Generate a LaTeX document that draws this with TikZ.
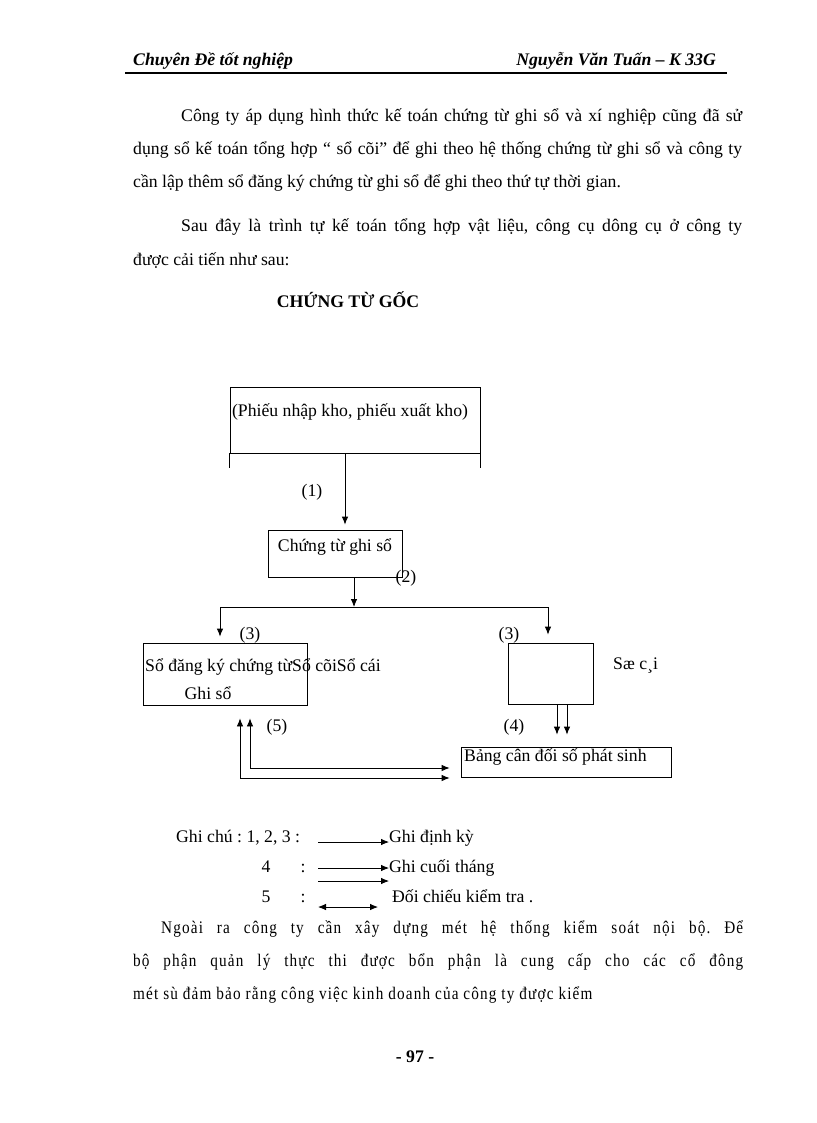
\documentclass[tikz,border=0pt]{standalone}
\usepackage{fontspec}
\setmainfont{Liberation Serif}
\newfontfamily\spacedfont[LetterSpace=6.5, FakeStretch=0.86]{Liberation Serif}
\usetikzlibrary{arrows.meta}
\frenchspacing

\begin{document}
\begin{tikzpicture}[x=1pt, y=-1pt,
		box_style/.style={draw=black, line width=0.8pt, inner sep=0pt},
		text_style/.style={inner sep=0pt, text height=12pt, text depth=4pt, font=\fontsize{17.7}{20}\selectfont},
		line_style/.style={anchor=west, text_style},
		edge_style/.style={draw=black, line width=0.8pt},
		arrow_style/.style={edge_style, -{Latex[length=8pt,width=6.5pt]}},
		both_style/.style={edge_style, {Latex[length=8pt,width=6.5pt]}-{Latex[length=8pt,width=6.5pt]}}]

		\useasboundingbox[fill=white] (0,0) rectangle (816,1123);

		% header
		\node[line_style, font=\fontsize{17.7}{20}\selectfont\bfseries\itshape] (head_l) at (133,62) {Chuyên Đề tốt nghiệp};
		\node[text_style, anchor=east, font=\fontsize{17.7}{20}\selectfont\bfseries\itshape] (head_r) at (716,62) {Nguyễn Văn Tuấn -- K 33G};
		\coordinate (rule_l) at (125,73);
		\coordinate (rule_r) at (727,73);
		\draw[line width=1.4pt] (rule_l) -- (rule_r);

		% text above
		\node[line_style] (p1) at (181,118) {\makebox[561pt][s]{Công ty áp dụng hình thức kế toán chứng từ ghi sổ và xí nghiệp cũng đã sử}};
		\node[line_style] (p2) at (133,151) {\makebox[609pt][s]{dụng sổ kế toán tổng hợp “ sổ cõi” để ghi theo hệ thống chứng từ ghi sổ và công ty}};
		\node[line_style] (p3) at (133,184) {cần lập thêm sổ đăng ký chứng từ ghi sổ để ghi theo thứ tự thời gian.};
		\node[line_style] (p4) at (181,228) {\makebox[561pt][s]{Sau đây là trình tự kế toán tổng hợp vật liệu, công cụ dông cụ ở công ty}};
		\node[line_style] (p5) at (133,261) {được cải tiến như sau:};
		\node[text_style, font=\fontsize{17.7}{20}\selectfont\bfseries] (title) at (348,303) {CHỨNG TỪ GỐC};

		% boxes
		\node[box_style, minimum width=250, minimum height=66] (goc) at (355,420) {};
		\node[text_style] (goc_text) at (350,412) {(Phiếu nhập kho, phiếu xuất kho)};
		\node[box_style, minimum width=134, minimum height=47] (ctgs) at (335,553.5) {};
		\node[text_style] (ctgs_text) at (335,547) {Chứng từ ghi sổ};
		\node[box_style, minimum width=164, minimum height=62] (dk) at (225,674) {};
		\node[line_style] (dk_text) at (145,667) {Sổ đăng ký chứng từSổ cõiSổ cái};
		\node[text_style] (gs_text) at (208,695) {Ghi sổ};
		\node[box_style, minimum width=85, minimum height=61] (sc) at (550.5,673.5) {};
		\node[line_style] (sc_text) at (613,665) {Sæ c¸i};
		\node[box_style, minimum width=210, minimum height=30] (bcd) at (566,762) {};
		\node[line_style] (bcd_text) at (464,757) {Bảng cân đối số phát sinh};

		% labels
		\node[text_style] (l1) at (312,492) {(1)};
		\node[text_style] (l2) at (406,578) {(2)};
		\node[text_style] (l3a) at (250,635) {(3)};
		\node[text_style] (l3b) at (509,635) {(3)};
		\node[text_style] (l4) at (514,727) {(4)};
		\node[text_style] (l5) at (277,727) {(5)};

		% edges
		\draw[edge_style] (goc.south west) -- ++(0,15);
		\draw[edge_style] (goc.south east) -- ++(0,15);
		\draw[arrow_style, shorten >=5pt] ([xshift=-10pt]goc.south) -- ([xshift=10pt]ctgs.north);
		\coordinate (split_l) at (220,607);
		\coordinate (split_m) at (354,607);
		\coordinate (split_r) at (548,607);
		\draw[arrow_style] ([xshift=19pt]ctgs.south) -- (split_m);
		\draw[edge_style] (split_l) -- (split_r);
		\draw[arrow_style, shorten >=6pt] (split_l) -- (split_l |- dk.north);
		\draw[arrow_style, shorten >=8pt] (split_r) -- (split_r |- sc.north);
		\foreach \dx in {6.5,16.5}
			\draw[arrow_style, shorten >=12pt] ([xshift=\dx pt]sc.south) -- ([xshift=\dx pt]sc.south |- bcd.north);
		\draw[both_style, shorten <=13pt, shorten >=11pt] ([xshift=25pt]dk.south) |- ([yshift=-6pt]bcd.west);
		\draw[both_style, shorten <=13pt, shorten >=11pt] ([xshift=15pt]dk.south) |- ([yshift=-16pt]bcd.west);

		% legend
		\node[line_style] (gc) at (176,838) {Ghi chú : 1, 2, 3 :};
		\node[line_style] (kd) at (389,838) {Ghi định kỳ};
		\node[text_style] (n4) at (266,868) {4};
		\node[text_style] (c4) at (303,868) {:};
		\node[line_style] (ct) at (389,868) {Ghi cuối tháng};
		\node[text_style] (n5) at (266,898) {5};
		\node[text_style] (c5) at (303,898) {:};
		\node[line_style] (dc) at (392,898) {Đối chiếu kiểm tra .};
		\coordinate (k1) at (318,842);
		\coordinate (k2) at (318,868);
		\coordinate (k3) at (318,881);
		\coordinate (k4) at (318,907);
		\coordinate (k5) at (378,907);
		\draw[arrow_style] (k1) -- (k1 -| kd.west);
		\draw[arrow_style] (k2) -- (k2 -| ct.west);
		\draw[arrow_style] (k3) -- (k3 -| ct.west);
		\draw[both_style] (k4) -- (k5);

		% text below
		\node[line_style, font=\fontsize{17.7}{20}\selectfont\spacedfont] (q1) at (161,929) {\makebox[582pt][s]{Ngoài ra công ty cần xây dựng mét hệ thống kiểm soát nội bộ. Để}};
		\node[line_style, font=\fontsize{17.7}{20}\selectfont\spacedfont] (q2) at (133,962) {\makebox[610pt][s]{bộ phận quản lý thực thi được bổn phận là cung cấp cho các cổ đông}};
		\node[line_style, font=\fontsize{17.7}{20}\selectfont\spacedfont] (q3) at (133,995) {mét sù đảm bảo rằng công việc kinh doanh của công ty được kiểm};
		\node[text_style, font=\fontsize{17.7}{20}\selectfont\bfseries] (page) at (415,1058) {- 97 -};
\end{tikzpicture}
\end{document}
